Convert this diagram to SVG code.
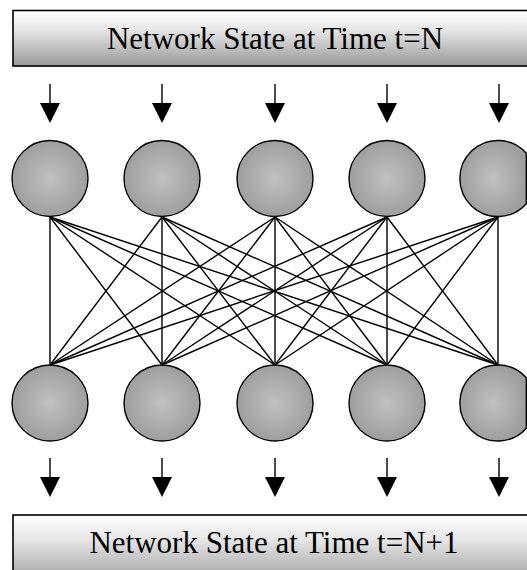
<svg xmlns="http://www.w3.org/2000/svg" width="527" height="570" viewBox="0 0 527 570">
<defs>
<linearGradient id="boxGrad" x1="0" y1="0" x2="0" y2="1">
<stop offset="0" stop-color="#ffffff"/>
<stop offset="0.35" stop-color="#e6e6e6"/>
<stop offset="1" stop-color="#999999"/>
</linearGradient>
<radialGradient id="nodeGrad" cx="0.5" cy="0.5" r="0.5">
<stop offset="0" stop-color="#c0c0c0"/>
<stop offset="1" stop-color="#9e9e9e"/>
</radialGradient>
</defs>
<style>
.box{fill:url(#boxGrad);stroke:#000;stroke-width:1.6}
.lbl{font-family:"Liberation Serif","Times New Roman",serif;font-size:31px;fill:#000;text-anchor:middle}
.node{fill:url(#nodeGrad);stroke:#000;stroke-width:1.4}
.conn line{stroke:#000;stroke-width:1.4}
.arrow{stroke:#000;stroke-width:1.4}
</style>
<g id="top-state">
<rect class="box" x="13" y="10.5" width="530" height="55.5"/>
<text class="lbl" x="275" y="49">Network State at Time t=N</text>
</g>
<g id="bottom-state">
<rect class="box" x="13" y="515" width="530" height="70"/>
<text class="lbl" x="274" y="553">Network State at Time t=N+1</text>
</g>
<g id="input-arrows">
<path class="arrow" d="M50,84 V104 M162,84 V104 M275,84 V104 M387,84 V104 M499,84 V104"/>
<path d="M40,103 H60 L50,123 Z M152,103 H172 L162,123 Z M265,103 H285 L275,123 Z M377,103 H397 L387,123 Z M489,103 H509 L499,123 Z" fill="#000"/>
</g>
<g id="output-arrows">
<path class="arrow" d="M50,458 V478 M162,458 V478 M275,458 V478 M387,458 V478 M499,458 V478"/>
<path d="M40,477 H60 L50,497 Z M152,477 H172 L162,497 Z M265,477 H285 L275,497 Z M377,477 H397 L387,497 Z M489,477 H509 L499,497 Z" fill="#000"/>
</g>
<g id="connectors" class="conn">
<line x1="50" y1="217" x2="50" y2="365"/>
<line x1="50" y1="217" x2="162" y2="365"/>
<line x1="50" y1="217" x2="275" y2="365"/>
<line x1="50" y1="217" x2="387" y2="365"/>
<line x1="50" y1="217" x2="498" y2="365"/>
<line x1="162" y1="217" x2="50" y2="365"/>
<line x1="162" y1="217" x2="162" y2="365"/>
<line x1="162" y1="217" x2="275" y2="365"/>
<line x1="162" y1="217" x2="387" y2="365"/>
<line x1="162" y1="217" x2="498" y2="365"/>
<line x1="275" y1="217" x2="50" y2="365"/>
<line x1="275" y1="217" x2="162" y2="365"/>
<line x1="275" y1="217" x2="275" y2="365"/>
<line x1="275" y1="217" x2="387" y2="365"/>
<line x1="275" y1="217" x2="498" y2="365"/>
<line x1="387" y1="217" x2="50" y2="365"/>
<line x1="387" y1="217" x2="162" y2="365"/>
<line x1="387" y1="217" x2="275" y2="365"/>
<line x1="387" y1="217" x2="387" y2="365"/>
<line x1="387" y1="217" x2="498" y2="365"/>
<line x1="498" y1="217" x2="50" y2="365"/>
<line x1="498" y1="217" x2="162" y2="365"/>
<line x1="498" y1="217" x2="275" y2="365"/>
<line x1="498" y1="217" x2="387" y2="365"/>
<line x1="498" y1="217" x2="498" y2="365"/>
</g>
<g id="in1"><circle class="node" cx="50" cy="178.5" r="38"/></g>
<g id="in2"><circle class="node" cx="162" cy="178.5" r="38"/></g>
<g id="in3"><circle class="node" cx="275" cy="178.5" r="38"/></g>
<g id="in4"><circle class="node" cx="387" cy="178.5" r="38"/></g>
<g id="in5"><path class="node" d="M526.3,153.3 A38,38 0 1 0 526.3,203.7 Z"/></g>
<g id="out1"><circle class="node" cx="50" cy="403" r="38"/></g>
<g id="out2"><circle class="node" cx="162" cy="403" r="38"/></g>
<g id="out3"><circle class="node" cx="275" cy="403" r="38"/></g>
<g id="out4"><circle class="node" cx="387" cy="403" r="38"/></g>
<g id="out5"><path class="node" d="M526.3,377.8 A38,38 0 1 0 526.3,428.2 Z"/></g>
</svg>
